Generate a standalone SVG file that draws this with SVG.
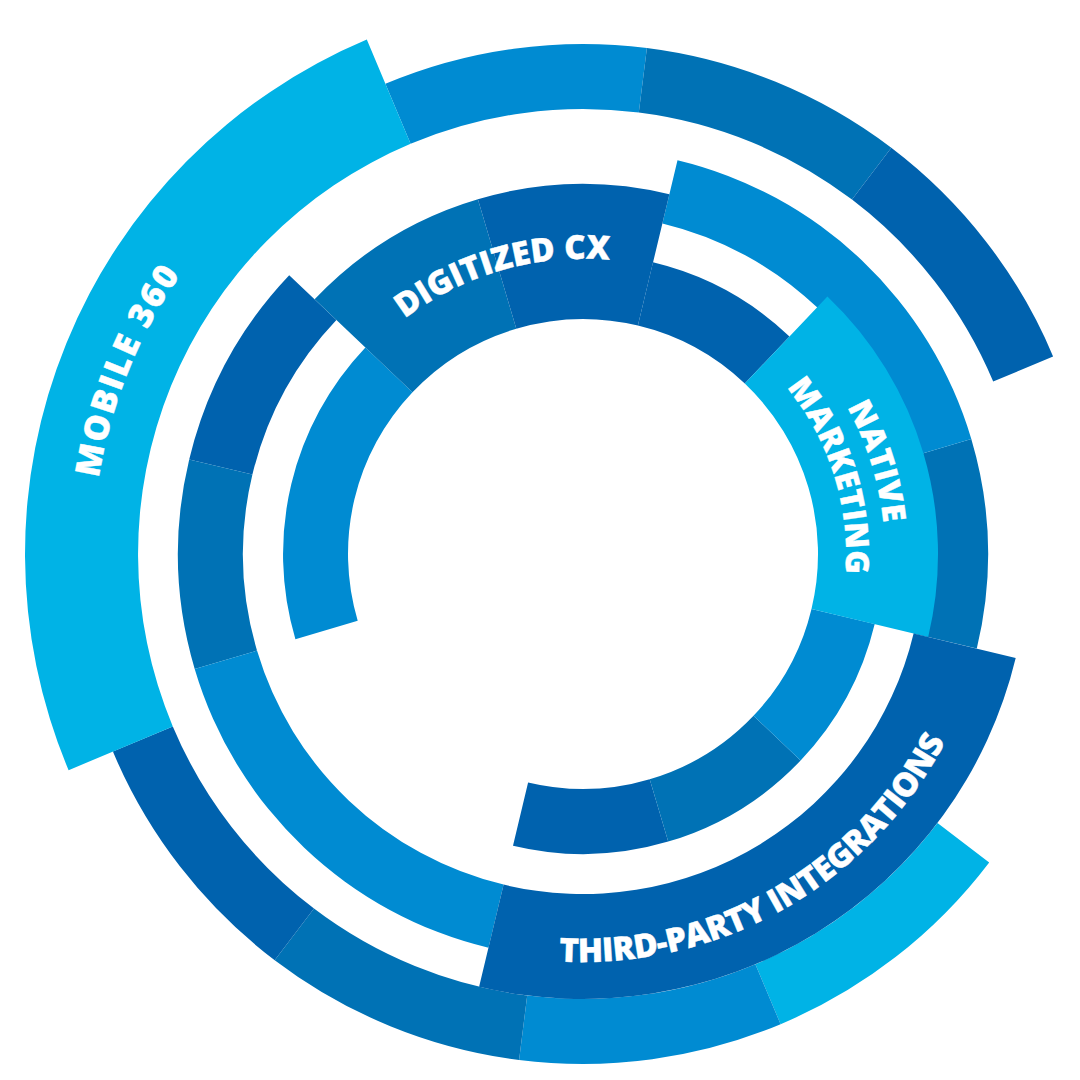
<svg xmlns="http://www.w3.org/2000/svg" width="1080" height="1080" viewBox="0 0 1080 1080">
<style>
.c{fill:#00B3E6}.m{fill:#008BD2}.s{fill:#0072B5}.d{fill:#0062AE}
.t{font-family:"Open Sans","Roboto","DejaVu Sans",sans-serif;font-weight:800;fill:#ffffff;font-size:33px;stroke:#ffffff;stroke-width:0.4px;stroke-linejoin:round}
</style>
<defs>
<path id="pDig" d="M357.0,364.4 A294 294 0 0 1 674.2,273.4"/>
<path id="pNat" d="M745.3,299.3 A302 302 0 0 1 862.0,669.6"/>
<path id="pMar" d="M724.3,332.2 A263 263 0 0 1 826.0,654.6"/>
<path id="pMob" d="M98.0,623.9 A490 490 0 0 1 280.0,168.9"/>
<path id="pTpi" d="M509.7,955.4 A408 408 0 0 0 965.5,695.9"/>
</defs>
<rect width="1080" height="1080" fill="#ffffff"/>
<g id="outer-ring">
<path class="m" d="M385.4,83.8 A510 510 0 0 1 646.9,48.0 L638.8,112.5 A445 445 0 0 0 410.6,143.8 Z"/>
<path class="s" d="M646.9,48.0 A510 510 0 0 1 891.3,147.8 L852.0,199.6 A445 445 0 0 0 638.8,112.5 Z"/>
<path class="d" d="M891.3,147.8 A510 510 0 0 1 1053.1,356.4 L993.2,381.6 A445 445 0 0 0 852.0,199.6 Z"/>
<path class="c" d="M989.2,862.4 A510 510 0 0 1 780.6,1024.2 L755.4,964.2 A445 445 0 0 0 937.5,823.1 Z"/>
<path class="m" d="M780.6,1024.2 A510 510 0 0 1 519.1,1060.0 L527.2,995.5 A445 445 0 0 0 755.4,964.2 Z"/>
<path class="s" d="M519.1,1060.0 A510 510 0 0 1 274.7,960.2 L314.0,908.5 A445 445 0 0 0 527.2,995.5 Z"/>
<path class="d" d="M274.7,960.2 A510 510 0 0 1 112.9,751.6 L172.8,726.4 A445 445 0 0 0 314.0,908.5 Z"/>
</g>
<g id="middle-ring">
<path class="d" d="M189.2,459.5 A405 405 0 0 1 289.2,275.2 L336.4,320.0 A340 340 0 0 0 252.4,474.6 Z"/>
<path class="s" d="M194.7,669.0 A405 405 0 0 1 189.2,459.5 L252.4,474.6 A340 340 0 0 0 257.0,650.6 Z"/>
<path class="m" d="M488.5,947.8 A405 405 0 0 1 194.7,669.0 L257.0,650.6 A340 340 0 0 0 503.6,884.6 Z"/>
<path class="s" d="M971.3,439.0 A405 405 0 0 1 976.8,648.5 L913.6,633.4 A340 340 0 0 0 909.0,457.4 Z"/>
<path class="m" d="M677.5,160.2 A405 405 0 0 1 971.3,439.0 L909.0,457.4 A340 340 0 0 0 662.4,223.4 Z"/>
</g>
<g id="inner-ring">
<path class="m" d="M295.4,639.2 A300 300 0 0 1 365.4,347.5 L412.5,392.2 A235 235 0 0 0 357.7,620.7 Z"/>
<path class="d" d="M668.2,841.6 A300 300 0 0 1 513.0,845.7 L528.1,782.5 A235 235 0 0 0 649.7,779.3 Z"/>
<path class="s" d="M800.6,760.5 A300 300 0 0 1 668.2,841.6 L649.7,779.3 A235 235 0 0 0 753.5,715.8 Z"/>
<path class="m" d="M874.7,624.0 A300 300 0 0 1 800.6,760.5 L753.5,715.8 A235 235 0 0 0 811.5,608.9 Z"/>
<path class="d" d="M653.0,262.3 A300 300 0 0 1 789.5,336.4 L744.8,383.5 A235 235 0 0 0 637.9,325.5 Z"/>
</g>
<g id="mobile-360">
<path class="c" d="M68.6,770.2 A558 558 0 0 1 366.8,39.6 L410.6,143.8 A445 445 0 0 0 172.8,726.4 Z"/>
<text class="t" style="font-size:34px"><textPath href="#pMob" startOffset="50%" text-anchor="middle" textLength="221" lengthAdjust="spacing">MOBILE 360</textPath></text>
</g>
<g id="digitized-cx">
<path class="s" d="M314.6,299.3 A370 370 0 0 1 477.9,199.2 L516.3,328.7 A235 235 0 0 0 412.5,392.2 Z"/>
<path class="d" d="M477.9,199.2 A370 370 0 0 1 669.4,194.2 L637.9,325.5 A235 235 0 0 0 516.3,328.7 Z"/>
<text class="t"><textPath href="#pDig" startOffset="50%" text-anchor="middle" textLength="218" lengthAdjust="spacing">DIGITIZED CX</textPath></text>
</g>
<g id="native-marketing">
<path class="c" d="M827.4,296.5 A355 355 0 0 1 928.2,636.9 L811.5,608.9 A235 235 0 0 0 744.8,383.5 Z"/>
<text class="t" style="font-size:32px"><textPath href="#pNat" startOffset="50%" text-anchor="middle" textLength="122" lengthAdjust="spacing">NATIVE</textPath></text>
<text class="t" style="font-size:32px"><textPath href="#pMar" startOffset="50%" text-anchor="middle" textLength="200" lengthAdjust="spacing">MARKETING</textPath></text>
</g>
<g id="third-party-integrations">
<path class="d" d="M1015.7,657.9 A445 445 0 0 1 479.1,986.7 L503.6,884.6 A340 340 0 0 0 913.6,633.4 Z"/>
<text class="t"><textPath href="#pTpi" startOffset="50%" text-anchor="middle" textLength="470" lengthAdjust="spacing">THIRD-PARTY INTEGRATIONS</textPath></text>
</g>
</svg>
